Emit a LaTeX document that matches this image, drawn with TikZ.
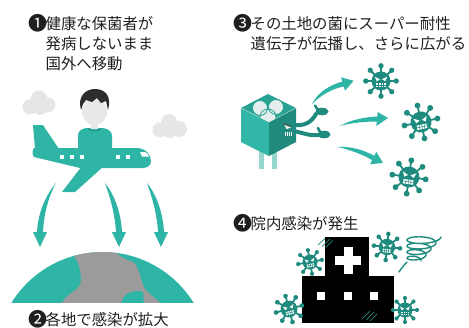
\documentclass[tikz,border=0pt]{standalone}
\usepackage{fontspec}
\newfontfamily\jpfont{Noto Sans CJK JP}

\definecolor{planeteal}{HTML}{2EB5A5}
\definecolor{germteal}{HTML}{1F8B7E}
\definecolor{landgray}{HTML}{9B9B9B}
\definecolor{cloudgray}{HTML}{E6E6E6}
\definecolor{hairgray}{HTML}{2D2D2D}
\definecolor{skingray}{HTML}{E8E8E8}
\definecolor{boxtop}{HTML}{27A192}
\definecolor{boxleft}{HTML}{32B6A7}
\definecolor{boxright}{HTML}{1F8A7D}
\definecolor{boxleg}{HTML}{95D6CC}
\definecolor{eggwhite}{HTML}{E4EFED}

% enlarged circled step number, kept one character wide
\newcommand\stepmark[1]{\makebox[15.4pt][c]{\raisebox{-1pt}{\fontsize{19}{19}\selectfont #1}}}

\begin{document}
\begin{tikzpicture}[
        % pixel-like units, y pointing down
        x=1pt, y=-1pt,
        %
        caption/.style={anchor=base west, inner sep=0pt, text=black!88,
            font=\jpfont\fontsize{15.4}{20}\selectfont},
        spread/.style={fill=planeteal},
        arm/.style={draw=boxright, line width=4pt, line cap=round},
        gloss/.style={draw=germteal, line width=0.7pt},
        %
        virus/.pic={
            \foreach \a in {0,45,...,315} {
                \draw[germteal, line width=1.8pt] (\a:8) -- (\a:15);
                \fill[germteal] (\a:16) circle (2.8);
            }
            \fill[germteal] (0,0) circle (10);
            % angry eyes
            \fill[white] (-6.5,-4.5) -- (-1.2,-1.8) -- (-4.5,0.3) -- cycle;
            \fill[white] ( 6.5,-4.5) -- ( 1.2,-1.8) -- ( 4.5,0.3) -- cycle;
            % grinning teeth
            \fill[white] (-4.8,2.5) rectangle (4.8,6.8);
            \foreach \t in {-2.4,0,2.4}
                \draw[germteal, line width=0.5pt] (\t,2.5) -- (\t,6.8);
            \draw[germteal, line width=0.5pt] (-4.8,4.6) -- (4.8,4.6);
        }
    ]

    \useasboundingbox (0,0) rectangle (469,327);

    % ---------- 1: carrier flies abroad ----------
    \node[caption] (step1a) at (30,29)   {\stepmark{❶}健康な保菌者が};
    \node[caption] (step1b) at (45.4,49) {発病しないまま};
    \node[caption] (step1c) at (45.4,69) {国外へ移動};

    % Clouds
    \fill[cloudgray] (30,107) circle (7.5) (39,99) circle (8.5)
        (48,105) circle (7.5) (40,108) circle (7);
    \fill[cloudgray] (160,130) circle (7.5) (169,122) circle (8)
        (179,129) circle (8) (170,131) circle (7);

    % Passenger: shirt, neck, face and hair
    \fill[planeteal] (78,150) -- (78,136) .. controls (78,131) and (81,129) .. (86,128)
        -- (103,128) .. controls (108,129) and (112,131) .. (112,136) -- (112,150) -- cycle;
    \fill[skingray] (91,118) rectangle (98,129);
    \draw[boxright, line width=0.8pt] (88,128.5) .. controls (91,132) and (98,132) .. (101,128.5);
    \fill[skingray] (94.5,111.5) ellipse (12.5 and 13.5);
    \fill[hairgray] (81,110) .. controls (77,96) and (86,89) .. (95,89)
        .. controls (105,89) and (112,96) .. (108,110)
        -- (106,101) -- (101,103) -- (97,98) -- (92,102) -- (86,100) -- (83,104) -- cycle;

    % Airplane: tail fin, fuselage and wing
    \fill[planeteal] (33,125) -- (43,125) -- (59,149) -- (35,149) -- cycle;
    \fill[planeteal] (34,148) -- (136,148) .. controls (146,148) and (151,155) .. (151,161)
        .. controls (151,166) and (147,168) .. (142,168) -- (80,168) -- (34,157)
        .. controls (32,155) and (32,150) .. (34,148) -- cycle;
    \fill[planeteal] (82,166) -- (104,166) -- (75,192) -- (62,192) -- cycle;
    % windows and cockpit
    \foreach \wx in {62,72,82,118,128}
        \fill[white] (\wx-1.6,155.2) rectangle (\wx+1.6,158.6);
    \fill[white] (140,152) -- (145,152) .. controls (147,153) and (148.5,154.5) .. (149,156.5)
        -- (142,156.5) -- cycle;

    % Arrows down to the globe
    \fill[spread] (56,183) .. controls (46,195) and (38,212) .. (37,232)
        -- (33,232) -- (40,247) -- (47,232) -- (43,232)
        .. controls (44,212) and (49,196) .. (56,183) -- cycle;
    \fill[spread] (105,183) .. controls (114,194) and (121,212) .. (122,232)
        -- (126,232) -- (119,247) -- (112,232) -- (116,232)
        .. controls (115,214) and (110,197) .. (105,183) -- cycle;
    \fill[spread] (147,183) .. controls (156,194) and (163,212) .. (164,232)
        -- (168,232) -- (161,247) -- (154,232) -- (158,232)
        .. controls (157,214) and (152,197) .. (147,183) -- cycle;

    % ---------- 2: globe ----------
    \begin{scope}
        \clip (0,0) rectangle (469,302);
        \fill[planeteal] (102.5,359) circle (107);
        \clip (102.5,359) circle (107);
        \fill[landgray] (72,245) -- (74,256) .. controls (79,262) and (81,272) .. (81,280)
            .. controls (81,288) and (72,292) .. (66,297) -- (60,305) -- (163,305)
            .. controls (155,298) and (146,292) .. (143,285)
            .. controls (140,275) and (138,266) .. (133,262)
            .. controls (125,259) and (117,256) .. (113,248) -- cycle;
        \fill[planeteal] (121,305) .. controls (122,293) and (134,289) .. (143,292)
            -- (144,305) -- cycle;
    \end{scope}
    \node[caption] (step2) at (30,325) {\stepmark{❷}各地で感染が拡大};

    % ---------- 3: resistance genes spread ----------
    \node[caption] (step3a) at (235,29)   {\stepmark{❸}その土地の菌にスーパー耐性};
    \node[caption] (step3b) at (250.4,49) {遺伝子が伝播し、さらに広がる};

    % Legs
    \fill[boxleg] (259,150) rectangle (264,169);
    \fill[boxleg] (272,150) rectangle (277,169);

    % Box body
    \fill[boxtop]   (268,94) -- (296,108) -- (269,122) -- (241,108) -- cycle;
    \fill[boxleft]  (241,108) -- (269,122) -- (269,156) -- (241,142) -- cycle;
    \fill[boxright] (269,122) -- (296,108) -- (296,142) -- (269,156) -- cycle;
    \draw[white, opacity=0.5, line width=0.6pt] (241,108) -- (269,122) -- (296,108);
    \begin{scope}
        \clip (268,94) -- (296,108) -- (269,122) -- (241,108) -- cycle;
        \filldraw[fill=eggwhite, draw=boxtop, line width=0.8pt]
            (260,108) circle (7.5) (276,107) circle (7.5) (268,117) circle (8);
    \end{scope}

    % Arms with mitten hands
    \draw[arm] (294,125) .. controls (304,126) and (311,123) .. (316,114);
    \fill[boxright] (322,111.5) ellipse (6.5 and 3.8);
    \draw[arm, line width=2.5pt] (318,110) -- (315,105.5);
    \draw[arm] (294,131) .. controls (303,133) and (310,136) .. (318,135);
    \fill[boxright] (324,134.5) ellipse (6.5 and 3.8);
    \draw[arm, line width=2.5pt] (320,132) -- (318,128);

    % Face
    \fill[white] (284.5,125) -- (291,127.5) -- (286.5,129) -- cycle;
    \draw[black!70, line width=0.9pt] (283.5,123.5) -- (291.5,126.5);
    \fill[white] (284.5,132) rectangle (292,135.5);
    \foreach \t in {286.4,288.3,290.2}
        \draw[boxright, line width=0.4pt] (\t,132) -- (\t,135.5);

    % Arrows to the germs
    \fill[spread] (312,104) .. controls (318,92) and (330,85) .. (342.3,81.6)
        -- (341,77.3) -- (353.6,80.8) -- (345,90.7) -- (343.7,86.4)
        .. controls (331,89) and (320,96) .. (312,104) -- cycle;
    \fill[spread] (340,126) .. controls (350,120) and (365,117) .. (377.2,116.5)
        -- (377.7,112) -- (388,118) -- (376.3,126) -- (376.8,121.5)
        .. controls (365,121.5) and (350,123) .. (340,126) -- cycle;
    \fill[spread] (338,147) .. controls (350,146) and (364,150) .. (374.3,155.8)
        -- (376.3,151.8) -- (383,163) -- (370.1,164.2) -- (372.1,160.2)
        .. controls (362,154) and (350,150) .. (338,147) -- cycle;

    % Germs
    \pic[scale=0.95]                at (381,81)  {virus};
    \pic[scale=1.05, rotate=12]     at (421,122) {virus};
    \pic[scale=1.05, rotate=-8]     at (409,177) {virus};

    % ---------- 4: hospital outbreak ----------
    \node[caption] (step4) at (235,229) {\stepmark{❹}院内感染が発生};

    % Hospital
    \fill[black] (325,237) rectangle (369,277);
    \fill[black] (302,276) rectangle (394,323);
    \fill[white] (343.5,247) rectangle (352.5,274);
    \fill[white] (335,256) rectangle (361,265);
    \foreach \wx in {321,347.5,374}
        \fill[white] (\wx-4,292) rectangle (\wx+4,300);

    % Glass shine
    \draw[gloss] (318,245) -- (325,238.5);
    \draw[gloss] (322,246.5) -- (330,239);
    \draw[gloss] (326,247) -- (333,240.5);
    \draw[gloss] (362,319) -- (370,311);
    \draw[gloss] (366,320) -- (374,312);
    \draw[gloss] (370,321) -- (377,314);

    % Germs around the hospital
    \pic[scale=0.75, rotate=10]  at (310,262) {virus};
    \pic[scale=0.82, rotate=-6]  at (387,247) {virus};
    \pic[scale=0.84, rotate=15]  at (289,309) {virus};
    \pic[scale=0.75]             at (405,310) {virus};

    % Whirl
    \draw[germteal, line width=1.4pt, line cap=round]
        plot[domain=0:1440, samples=160, variable=\t]
        ({424 - \t/144 + (17 - \t/144)*cos(\t)}, {237 + \t/1440*24 + (5 - \t/720)*sin(\t)});
    \draw[germteal, line width=1.4pt, line cap=round] (407,262) .. controls (403,266) and (401,269) .. (399,272);

\end{tikzpicture}
\end{document}
